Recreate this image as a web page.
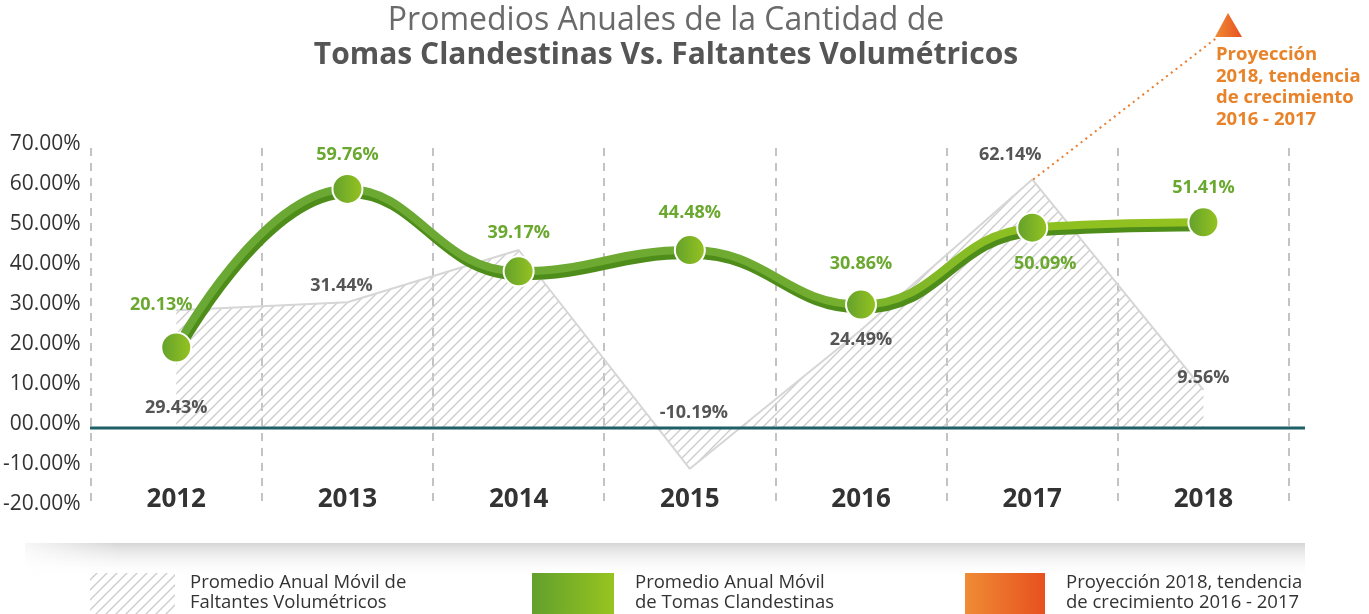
<!DOCTYPE html>
<html>
<head>
<meta charset="utf-8">
<script src="https://cdn.jsdelivr.net/npm/echarts@6/dist/echarts.min.js"></script>
<style>
html,body{margin:0;padding:0;background:#fff;}
#container{width:1369px;height:614px;}
</style>
</head>
<body>
<div id="container"></div>
<script>
// categorias y valores
var years = ['2012', '2013', '2014', '2015', '2016', '2017', '2018'];
var tomasValues = [20.13, 59.76, 39.17, 44.48, 30.86, 50.09, 51.41];
var faltantesValues = [29.43, 31.44, 44.5, -10.19, 24.49, 62.14, 9.56];
var faltantesLabels = ['29.43%', '31.44%', '', '-10.19%', '24.49%', '62.14%', '9.56%'];
var yMin = -20, yMax = 70, yStep = 10;

// desplazamiento de etiquetas (px, desde el punto)
var tomasOffsets = [[-15, -43], [0, -34], [0, -38], [0, -37], [0, -41], [13, 36], [0, -34]];
var faltOffsets = [[0, 98], [-6, -16], [0, 0], [4, -56], [0, 10], [-22, -25], [0, -12]];

var FONT = 'Open Sans';

function hatch() {
    var c = document.createElement('canvas');
    c.width = 10; c.height = 10;
    var g = c.getContext('2d');
    g.strokeStyle = '#cdcdcd';
    g.lineWidth = 1.4;
    g.beginPath();
    g.moveTo(0, 10); g.lineTo(10, 0);
    g.moveTo(-2, 2); g.lineTo(2, -2);
    g.moveTo(8, 12); g.lineTo(12, 8);
    g.stroke();
    return c;
}
var hatchCanvas = hatch();

var echartsLib = echarts;
var myChart = echartsLib.init(document.getElementById('container'));

var greenGrad = new echartsLib.graphic.LinearGradient(0, 0, 1, 0, [
    {offset: 0, color: '#69a834'}, {offset: 0.6, color: '#70ab31'},
    {offset: 0.8, color: '#8bbf22'}, {offset: 1, color: '#94c21f'}
]);
var markerGrad = new echartsLib.graphic.LinearGradient(0, 0, 1, 0, [
    {offset: 0, color: '#62a02d'}, {offset: 1, color: '#97c41f'}
]);

var option = {
    animation: false,
    title: [{
        text: 'Promedios Anuales de la Cantidad de',
        left: 661, top: 0, textAlign: 'center',
        textStyle: {fontFamily: FONT, fontSize: 32, fontWeight: 'normal', color: '#6a6a6a'}
    }, {
        text: 'Tomas Clandestinas Vs. Faltantes Volumétricos',
        left: 661, top: 35, textAlign: 'center',
        textStyle: {fontFamily: FONT, fontSize: 30, fontWeight: 'bold', color: '#555'}
    }],
    grid: {left: 90, right: 80, top: 148, bottom: 106},
    xAxis: {
        type: 'category',
        data: years,
        boundaryGap: true,
        axisLine: {show: false},
        axisTick: {show: false},
        axisLabel: {
            margin: -21,
            fontFamily: FONT, fontSize: 26, fontWeight: 'bold', color: '#333'
        },
        splitLine: {
            show: true, interval: 0,
            lineStyle: {color: '#c3c3c3', width: 2, type: [8, 7]}
        }
    },
    yAxis: {
        type: 'value',
        min: yMin, max: yMax, interval: yStep,
        axisLine: {show: false},
        axisTick: {show: false},
        splitLine: {show: false},
        axisLabel: {
            margin: 10,
            verticalAlign: 'bottom',
            lineHeight: 8,
            fontFamily: FONT, fontSize: 21, color: '#333',
            formatter: function (v) { return v === 0 ? '00.00%' : v.toFixed(2) + '%'; }
        }
    },
    series: [{
        name: 'Promedio Anual Móvil de Faltantes Volumétricos',
        type: 'line',
        data: faltantesValues,
        symbol: 'circle',
        symbolSize: 2,
        itemStyle: {color: 'rgba(0,0,0,0)'},
        lineStyle: {color: '#d6d6d6', width: 2},
        areaStyle: {color: {image: hatchCanvas, repeat: 'repeat'}, opacity: 1},
        label: {
            show: true,
            position: ['50%', '50%'],
            align: 'center', verticalAlign: 'middle',
            fontFamily: FONT, fontSize: 18, fontWeight: 'bold', color: '#555',
            formatter: function (p) { return faltantesLabels[p.dataIndex]; }
        },
        labelLayout: function (p) {
            var o = faltOffsets[p.dataIndex];
            return {dx: o[0], dy: o[1]};
        },
        z: 2
    }, {
        name: 'Promedio Anual Móvil de Tomas Clandestinas',
        type: 'line',
        data: tomasValues,
        smooth: 0.45,
        symbol: 'circle',
        symbolSize: 30,
        lineStyle: {
            width: 8, color: greenGrad,
            shadowColor: '#4f8d1a', shadowBlur: 0, shadowOffsetX: 2, shadowOffsetY: 5
        },
        itemStyle: {color: markerGrad, borderColor: '#fff', borderWidth: 2},
        label: {
            show: true,
            position: ['50%', '50%'],
            align: 'center', verticalAlign: 'middle',
            fontFamily: FONT, fontSize: 18, fontWeight: 'bold', color: '#6aa82f',
            formatter: function (p) { return p.value.toFixed(2) + '%'; }
        },
        labelLayout: function (p) {
            var o = tomasOffsets[p.dataIndex];
            return {dx: o[0], dy: o[1]};
        },
        z: 3
    }]
};
myChart.setOption(option);

// anotacion de proyeccion, linea cero y leyenda
var peak = myChart.convertToPixel({seriesIndex: 0}, [5, faltantesValues[5]]);
var zeroY = myChart.convertToPixel({yAxisIndex: 0}, 0);
var orangeGrad = new echartsLib.graphic.LinearGradient(0, 0, 1, 0, [
    {offset: 0, color: '#ef8c35'}, {offset: 1, color: '#e7501f'}
]);
var legendGreen = new echartsLib.graphic.LinearGradient(0, 0, 1, 0, [
    {offset: 0, color: '#62a02d'}, {offset: 1, color: '#97c41f'}
]);
var legendFont = {fontFamily: FONT, fontSize: 18.5, fill: '#333', lineHeight: 20};

myChart.setOption({
    graphic: [
        {
            type: 'line', silent: true, z: 10,
            shape: {x1: 90, y1: zeroY, x2: 1305, y2: zeroY},
            style: {stroke: '#1d6068', lineWidth: 3}
        },
        {
            type: 'polyline', silent: true, z: 10,
            shape: {points: [[peak[0] + 1, peak[1]], [1219, 36]]},
            style: {stroke: '#ea7d2c', lineWidth: 2, lineDash: [2, 4], fill: null}
        },
        {
            type: 'polygon', silent: true, z: 10,
            shape: {points: [[1215, 37], [1242, 37], [1228, 13]]},
            style: {fill: orangeGrad}
        },
        {
            type: 'text', silent: true, z: 10, x: 1216, y: 44,
            style: {
                text: 'Proyección\n2018, tendencia\nde crecimiento\n2016 - 2017',
                fontFamily: FONT, fontSize: 18.5, fontWeight: 'bold', fill: '#e8832a', lineHeight: 21.5
            }
        },
        {
            type: 'rect', silent: true, z: 0,
            shape: {x: 25, y: 543, width: 1280, height: 34},
            style: {
                fill: new echartsLib.graphic.LinearGradient(0, 0, 0, 1, [
                    {offset: 0, color: 'rgba(200,200,200,0.75)'},
                    {offset: 1, color: 'rgba(255,255,255,0)'}
                ])
            }
        },
        {
            type: 'rect', silent: true, z: 1,
            shape: {x: 0, y: 540, width: 120, height: 40},
            style: {
                fill: new echartsLib.graphic.LinearGradient(0, 0, 1, 0, [
                    {offset: 0, color: 'rgba(255,255,255,1)'},
                    {offset: 1, color: 'rgba(255,255,255,0)'}
                ])
            }
        },
        {
            type: 'rect', silent: true, z: 2,
            shape: {x: 90, y: 573, width: 85, height: 41},
            style: {fill: {image: hatchCanvas, repeat: 'repeat'}}
        },
        {
            type: 'text', silent: true, z: 2, x: 190, y: 573,
            style: Object.assign({text: 'Promedio Anual Móvil de\nFaltantes Volumétricos'}, legendFont)
        },
        {
            type: 'rect', silent: true, z: 2,
            shape: {x: 532, y: 573, width: 82, height: 41},
            style: {fill: legendGreen}
        },
        {
            type: 'text', silent: true, z: 2, x: 635, y: 573,
            style: Object.assign({text: 'Promedio Anual Móvil\nde Tomas Clandestinas'}, legendFont)
        },
        {
            type: 'rect', silent: true, z: 2,
            shape: {x: 965, y: 573, width: 80, height: 41},
            style: {fill: orangeGrad}
        },
        {
            type: 'text', silent: true, z: 2, x: 1066, y: 573,
            style: Object.assign({text: 'Proyección 2018, tendencia\nde crecimiento 2016 - 2017'}, legendFont)
        }
    ]
});
</script>
</body>
</html>
